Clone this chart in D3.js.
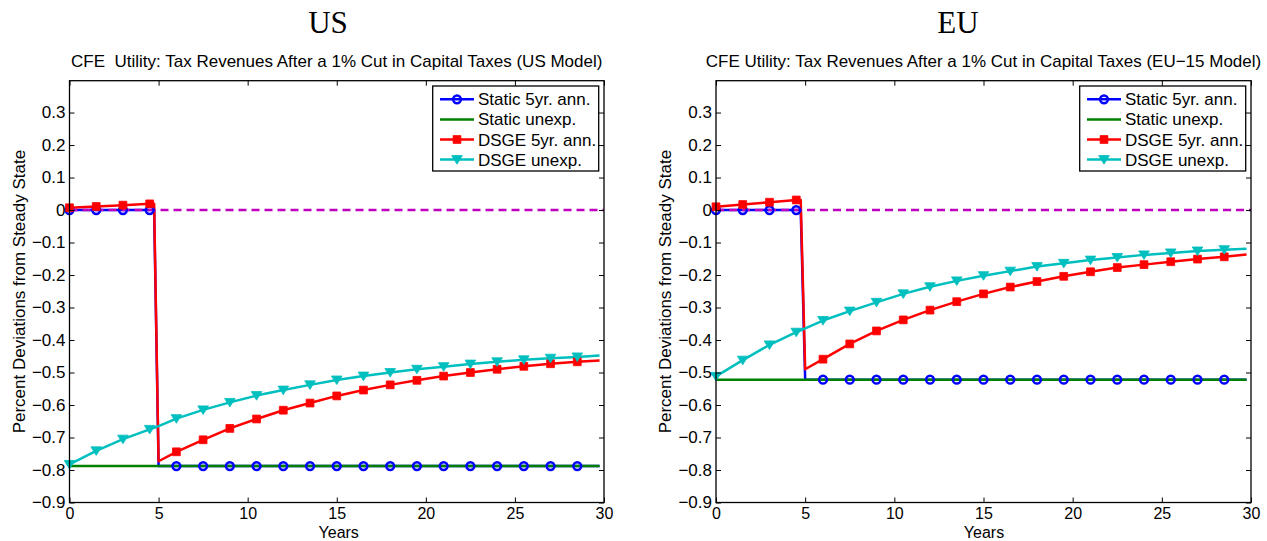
<!DOCTYPE html>
<html>
<head>
<meta charset="utf-8">
<script src="https://cdn.jsdelivr.net/npm/d3@7"></script>
<style>
  body { margin: 0; background: #fff; }
  svg { display: block; }
  text { font-family: "Liberation Sans", Arial, Helvetica, sans-serif; fill: #000; }
  .hdr { font-family: "Liberation Serif", "Times New Roman", serif; }
</style>
</head>
<body>
<script>
// Time grid (years) shared by every series; markers sit on the 1.5-year points
const years = [0, 1.5, 3, 4.5, 4.75, 5, 6, 7.5, 9, 10.5, 12, 13.5, 15, 16.5, 18, 19.5, 21, 22.5, 24, 25.5, 27, 28.5, 29.75];

// US model
const usStatic5yr   = [0, 0, 0, 0, 0, -0.788, -0.788, -0.788, -0.788, -0.788, -0.788, -0.788, -0.788, -0.788, -0.788, -0.788, -0.788, -0.788, -0.788, -0.788, -0.788, -0.788, -0.788];
const usStaticUnexp = [-0.788, -0.788, -0.788, -0.788, -0.788, -0.788, -0.788, -0.788, -0.788, -0.788, -0.788, -0.788, -0.788, -0.788, -0.788, -0.788, -0.788, -0.788, -0.788, -0.788, -0.788, -0.788, -0.788];
const usDsge5yr     = [0.007, 0.011, 0.015, 0.019, 0.019, -0.773, -0.744, -0.707, -0.672, -0.643, -0.616, -0.594, -0.572, -0.554, -0.538, -0.524, -0.511, -0.500, -0.490, -0.481, -0.473, -0.467, -0.463];
const usDsgeUnexp   = [-0.783, -0.741, -0.705, -0.675, -0.670, -0.665, -0.642, -0.615, -0.592, -0.571, -0.554, -0.538, -0.523, -0.511, -0.500, -0.490, -0.482, -0.474, -0.467, -0.461, -0.456, -0.452, -0.448];

// EU-15 model
const euStatic5yr   = [0, 0, 0, 0, 0, -0.522, -0.522, -0.522, -0.522, -0.522, -0.522, -0.522, -0.522, -0.522, -0.522, -0.522, -0.522, -0.522, -0.522, -0.522, -0.522, -0.522, -0.522];
const euStaticUnexp = [-0.522, -0.522, -0.522, -0.522, -0.522, -0.522, -0.522, -0.522, -0.522, -0.522, -0.522, -0.522, -0.522, -0.522, -0.522, -0.522, -0.522, -0.522, -0.522, -0.522, -0.522, -0.522, -0.522];
const euDsge5yr     = [0.010, 0.017, 0.024, 0.031, 0.031, -0.490, -0.459, -0.412, -0.372, -0.338, -0.308, -0.282, -0.258, -0.237, -0.220, -0.204, -0.190, -0.177, -0.168, -0.159, -0.151, -0.144, -0.137];
const euDsgeUnexp   = [-0.512, -0.462, -0.415, -0.376, -0.370, -0.364, -0.340, -0.311, -0.284, -0.258, -0.236, -0.218, -0.202, -0.188, -0.174, -0.164, -0.154, -0.146, -0.138, -0.132, -0.126, -0.122, -0.119];

// Steady-state reference line
const zeroYears = [0, 30];
const zeroValues = [0, 0];

// Axes ticks
const xTickValues = [0, 5, 10, 15, 20, 25, 30];
const xTickLabels = ["0", "5", "10", "15", "20", "25", "30"];
const yTickValues = [-0.9, -0.8, -0.7, -0.6, -0.5, -0.4, -0.3, -0.2, -0.1, 0, 0.1, 0.2, 0.3];
const yTickLabels = ["\u22120.9", "\u22120.8", "\u22120.7", "\u22120.6", "\u22120.5", "\u22120.4", "\u22120.3", "\u22120.2", "\u22120.1", "0", "0.1", "0.2", "0.3"];

const legendLabels = ["Static 5yr. ann.", "Static unexp.", "DSGE 5yr. ann.", "DSGE unexp."];
const seriesColors = ["#0000ff", "#008000", "#ff0000", "#00bfbf"];
const seriesMarkers = ["circle", "none", "square", "triangle"];

const W = 1267, H = 541;
const svg = d3.select("body").append("svg").attr("width", W).attr("height", H);

// Region headers
svg.append("text").attr("class", "hdr").attr("x", 328).attr("y", 33)
  .attr("text-anchor", "middle").attr("font-size", 31).text("US");
svg.append("text").attr("class", "hdr").attr("x", 958).attr("y", 33)
  .attr("text-anchor", "middle").attr("font-size", 31).text("EU");

function markerPath(kind) {
  if (kind === "square") return "M-3.9,-3.9H3.9V3.9H-3.9Z";
  if (kind === "triangle") return "M-5.3,-4L5.3,-4L0,4.6Z";
  return null;
}

function drawMarker(sel, kind, color) {
  if (kind === "circle") {
    sel.append("circle").attr("r", 3.9).attr("fill", "none")
      .attr("stroke", color).attr("stroke-width", 2.5);
  } else if (kind !== "none") {
    sel.append("path").attr("d", markerPath(kind)).attr("fill", color)
      .attr("stroke", color).attr("stroke-width", 0.8);
  }
}

function panel(cfg) {
  const { left, right, top, bottom, title, series, ylabX, yearsX } = cfg;
  const x = d3.scaleLinear().domain([0, 30]).range([left, right]);
  const y = d3.scaleLinear().domain([-0.9, 0.398]).range([bottom, top]);
  const g = svg.append("g");
  const fontSize = 17;
  const xFontSize = 16;

  // Title
  g.append("text").attr("x", (left + right) / 2).attr("y", 66.5)
    .attr("text-anchor", "middle").attr("font-size", fontSize)
    .style("white-space", "pre").text(title);

  // Data lines
  const line = d3.line().x(d => x(d[0])).y(d => y(d[1]));
  series.forEach((vals, i) => {
    g.append("path").datum(years.map((t, k) => [t, vals[k]]))
      .attr("d", line).attr("fill", "none")
      .attr("stroke", seriesColors[i]).attr("stroke-width", 2.5)
      .attr("stroke-linejoin", "round");
  });

  // Zero line
  g.append("path").datum(zeroYears.map((t, k) => [t, zeroValues[k]]))
    .attr("d", line).attr("fill", "none").attr("stroke", "#bf00bf")
    .attr("stroke-width", 2.5).attr("stroke-dasharray", "8,5");

  // Markers every 1.5 years
  series.forEach((vals, i) => {
    if (seriesMarkers[i] === "none") return;
    years.forEach((t, k) => {
      if (Math.abs(t / 1.5 - Math.round(t / 1.5)) > 1e-9) return;
      const m = g.append("g").attr("transform", `translate(${x(t)},${y(vals[k])})`);
      drawMarker(m, seriesMarkers[i], seriesColors[i]);
    });
  });

  // Axes (inward ticks on all four sides)
  const xb = g.append("g").attr("transform", `translate(0,${bottom})`)
    .call(d3.axisBottom(x).tickValues(xTickValues).tickSize(-5).tickPadding(5.5)
      .tickFormat((d, i) => xTickLabels[i]));
  const xt = g.append("g").attr("transform", `translate(0,${top})`)
    .call(d3.axisTop(x).tickValues(xTickValues).tickSize(-5).tickFormat(""));
  const yl = g.append("g").attr("transform", `translate(${left},0)`)
    .call(d3.axisLeft(y).tickValues(yTickValues).tickSize(-5).tickPadding(4)
      .tickFormat((d, i) => yTickLabels[i]));
  const yr = g.append("g").attr("transform", `translate(${right},0)`)
    .call(d3.axisRight(y).tickValues(yTickValues).tickSize(-5).tickFormat(""));
  [xb, xt, yl, yr].forEach(a => {
    a.select(".domain").remove();
    a.selectAll("line").attr("stroke", "#000").attr("stroke-width", 1);
    a.selectAll("text").attr("font-size", fontSize)
      .attr("font-family", "Liberation Sans, Arial, sans-serif").attr("fill", "#000");
  });
  xb.selectAll("text").attr("font-size", xFontSize);

  // Axes box
  g.append("rect").attr("x", left).attr("y", top)
    .attr("width", right - left).attr("height", bottom - top)
    .attr("fill", "none").attr("stroke", "#000").attr("stroke-width", 1.3);

  // Axis labels
  g.append("text").attr("x", yearsX).attr("y", 537.6).attr("text-anchor", "middle")
    .attr("font-size", xFontSize).text("Years");
  g.append("text").attr("transform", `translate(${ylabX},${(top + bottom) / 2}) rotate(-90)`)
    .attr("text-anchor", "middle").attr("font-size", fontSize)
    .text("Percent Deviations from Steady State");

  // Legend
  const lw = 166, lh = 85;
  const lg = g.append("g").attr("transform", `translate(${right - 5.3 - lw},${top + 5.3})`);
  lg.append("rect").attr("width", lw).attr("height", lh).attr("fill", "#fff")
    .attr("stroke", "#000").attr("stroke-width", 1.3);
  legendLabels.forEach((lab, i) => {
    const ry = 13.3 + i * 20.1;
    lg.append("line").attr("x1", 7.3).attr("x2", 41.3).attr("y1", ry).attr("y2", ry)
      .attr("stroke", seriesColors[i]).attr("stroke-width", 2.5);
    const m = lg.append("g").attr("transform", `translate(24.3,${ry})`);
    drawMarker(m, seriesMarkers[i], seriesColors[i]);
    lg.append("text").attr("x", 45.3).attr("y", ry + 6).attr("font-size", fontSize).text(lab);
  });
}

panel({
  left: 69.5, right: 604, top: 80.7, bottom: 502.5,
  title: "CFE  Utility: Tax Revenues After a 1% Cut in Capital Taxes (US Model)",
  series: [usStatic5yr, usStaticUnexp, usDsge5yr, usDsgeUnexp],
  ylabX: 24.5, yearsX: 338.7
});

panel({
  left: 716, right: 1251, top: 80.7, bottom: 502.5,
  title: "CFE Utility: Tax Revenues After a 1% Cut in Capital Taxes (EU\u221215 Model)",
  series: [euStatic5yr, euStaticUnexp, euDsge5yr, euDsgeUnexp],
  ylabX: 670.5, yearsX: 984
});
</script>
</body>
</html>
